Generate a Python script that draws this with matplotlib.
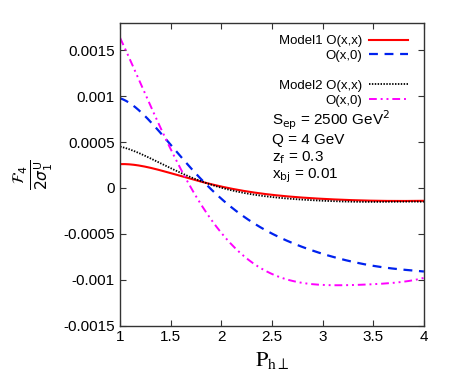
import matplotlib
matplotlib.use("Agg")
import matplotlib.pyplot as plt
import numpy as np

p_ht = [1.0, 1.25, 1.5, 1.75, 2.0, 2.25, 2.5, 2.75, 3.0, 3.25, 3.5, 3.75, 4.0]
model1_xx = [0.00026, 0.00023, 0.00016, 0.00009, 0.00001, -0.00004, -0.00007,
             -0.00010, -0.00012, -0.00013, -0.00014, -0.00014, -0.00014]
model1_x0 = [0.00098, 0.00076, 0.00049, 0.00016, -0.00014, -0.00034, -0.00047,
             -0.00063, -0.00072, -0.00079, -0.00085, -0.00088, -0.00091]
model2_xx = [0.00045, 0.00035, 0.00021, 0.00010, 0.00000, -0.00006, -0.00010,
             -0.00012, -0.00014, -0.00015, -0.00015, -0.00015, -0.00015]
model2_x0 = [0.00164, 0.00098, 0.00048, -0.00012, -0.00050, -0.00077, -0.00092,
             -0.00102, -0.00106, -0.00106, -0.00105, -0.00102, -0.00098]

xticks = [1, 1.5, 2, 2.5, 3, 3.5, 4]
xtick_labels = ["1", "1.5", "2", "2.5", "3", "3.5", "4"]
yticks = [-0.0015, -0.001, -0.0005, 0, 0.0005, 0.001, 0.0015]
ytick_labels = ["-0.0015", "-0.001", "-0.0005", "0", "0.0005", "0.001", "0.0015"]

plt.rcParams["font.family"] = ["Liberation Sans", "DejaVu Sans"]

fig = plt.figure(figsize=(4.5, 3.82), dpi=100)
ax = fig.add_axes([0.267, 0.147, 0.675, 0.794])

# smooth the read-off points for drawing
xs = np.linspace(1, 4, 200)


def smooth(y):
    coef = np.polyfit(p_ht, y, 6)
    return np.polyval(coef, xs)


l1, = ax.plot(xs, smooth(model1_xx), color="red", lw=1.5, ls="-")
l2, = ax.plot(xs, smooth(model1_x0), color="#0022ee", lw=1.6, ls=(0, (4, 3)))
l3, = ax.plot(xs, smooth(model2_xx), color="black", lw=1.3, ls=(0, (0.8, 0.8)))
l4, = ax.plot(xs, smooth(model2_x0), color="magenta", lw=1.4,
              ls=(0, (4, 2, 1, 2, 1, 2)))
blank, = ax.plot([], [], color="none")

ax.set_xlim(1, 4)
ax.set_ylim(-0.0015, 0.0018)
ax.set_xticks(xticks)
ax.set_xticklabels(xtick_labels)
ax.set_yticks(yticks)
ax.set_yticklabels(ytick_labels)
ax.tick_params(direction="in", top=True, right=True, length=4, width=0.8,
               labelsize=11, color="#333333", pad=4)
ax.tick_params(axis="x", pad=3)
for s in ax.spines.values():
    s.set_color("#333333")
    s.set_linewidth(1.0)

leg = ax.legend([l1, l2, blank, l3, l4],
                ["Model1 O(x,x)", "O(x,0)", "", "Model2 O(x,x)", "O(x,0)"],
                loc="upper right", bbox_to_anchor=(0.975, 0.985),
                frameon=False, fontsize=9.5, markerfirst=False,
                handlelength=3.0, handletextpad=0.5, labelspacing=0.2,
                borderaxespad=0.2)
for t in leg.get_texts():
    t.set_ha("right")
leg._legend_box.align = "right"

info = [r"S$_{\rm ep}$ = 2500 GeV$^2$", "Q = 4 GeV", r"z$_{\rm f}$ = 0.3",
        r"x$_{\rm bj}$ = 0.01"]
for label, yb in zip(info, [0.66, 0.601, 0.542, 0.487]):
    ax.text(2.5, yb, label, transform=ax.get_xaxis_transform(), fontsize=11,
            va="baseline")

ax.set_xlabel(r"$\mathrm{P}_{\mathrm{h}\perp}$", fontsize=16, math_fontfamily="stix")
ax.set_ylabel(r"$\frac{\mathcal{F}_4}{2\sigma_1^{\rm U}}$", fontsize=16,
              math_fontfamily="dejavusans", labelpad=6)

fig.savefig("out.png", dpi=100)
